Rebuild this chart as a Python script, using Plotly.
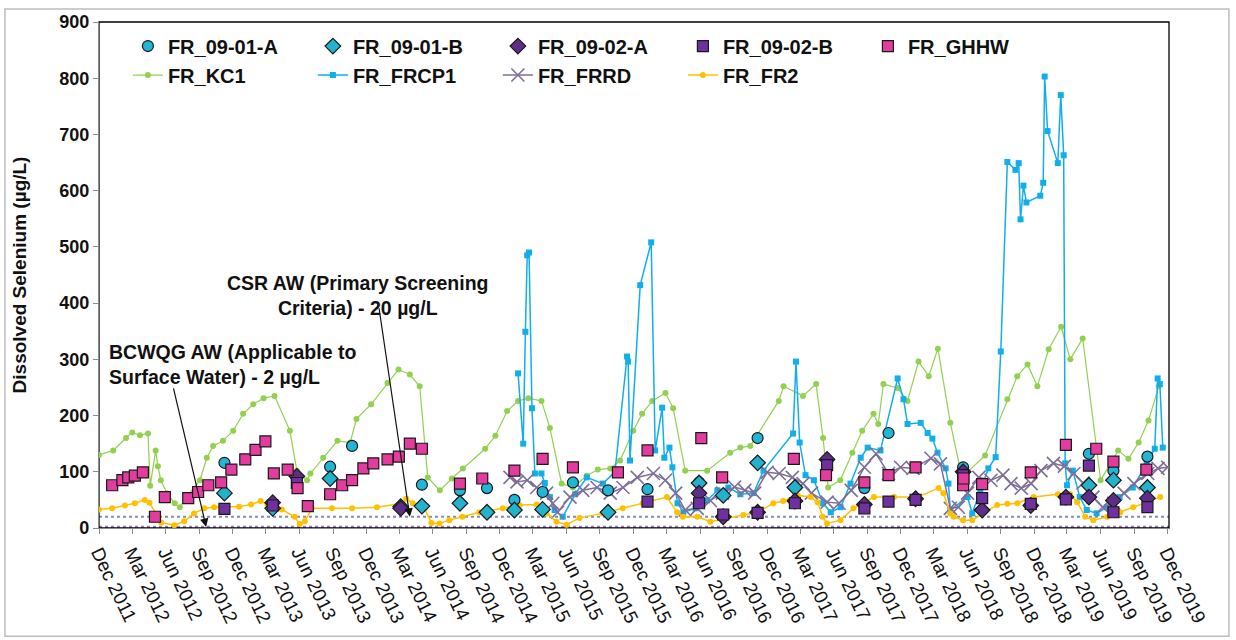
import plotly.graph_objects as go

FONT = "Arial, 'Liberation Sans', sans-serif"

# ---------------- data ----------------
a0901_dates = ["2012-11-08", "2013-05-25", "2013-08-24", "2013-10-23", "2014-03-05", "2014-05-02",
               "2014-08-14", "2014-10-27", "2015-01-10", "2015-03-28", "2015-06-19", "2015-09-23",
               "2016-01-09", "2016-05-29", "2016-11-05", "2017-05-14", "2017-08-24", "2017-10-29",
               "2018-05-21", "2018-11-22", "2019-04-30", "2019-07-06", "2019-10-07"]
a0901_vals = [116, 88, 109, 146, 37, 77, 67, 71, 50, 64, 81, 67, 69, 81, 160, 120, 71, 169,
              108, 41, 132, 102, 127]

b0901_dates = ["2012-11-08", "2013-03-20", "2013-08-24", "2014-03-05", "2014-05-02", "2014-08-14",
               "2014-10-27", "2015-01-10", "2015-03-28", "2015-09-23", "2016-05-29", "2016-08-03",
               "2016-11-05", "2017-02-15", "2019-04-30", "2019-07-06", "2019-10-07"]
b0901_vals = [62, 35, 88, 38, 39, 44, 28, 32, 33, 28, 80, 58, 116, 72, 76, 85, 72]

a0902_dates = ["2013-03-20", "2013-05-25", "2014-03-05", "2016-05-29", "2016-08-03", "2016-11-05",
               "2017-02-15", "2017-05-14", "2017-08-24", "2018-01-11", "2018-05-21", "2018-07-12",
               "2018-11-22", "2019-02-26", "2019-04-30", "2019-07-06", "2019-10-07"]
a0902_vals = [45, 92, 35, 62, 20, 28, 48, 122, 42, 52, 100, 32, 40, 55, 55, 49, 53]

b0902_dates = ["2012-11-08", "2013-03-20", "2013-05-25", "2016-01-09", "2016-05-29", "2016-08-03",
               "2016-11-05", "2017-02-15", "2017-05-14", "2017-08-24", "2017-10-29", "2018-01-11",
               "2018-05-21", "2018-07-12", "2018-11-22", "2019-02-26", "2019-04-30", "2019-07-06",
               "2019-10-07"]
b0902_vals = [34, 40, 80, 47, 44, 24, 27, 44, 112, 35, 47, 50, 94, 53, 43, 51, 111, 28, 37]

ghhw_dates = ["2012-01-06", "2012-02-03", "2012-02-19", "2012-03-08", "2012-03-30", "2012-05-02",
              "2012-05-29", "2012-08-01", "2012-08-28", "2012-09-25", "2012-10-30", "2012-11-27",
              "2013-01-04", "2013-02-01", "2013-02-28", "2013-03-23", "2013-04-30", "2013-05-27",
              "2013-06-24", "2013-08-24", "2013-09-26", "2013-10-23", "2013-11-23", "2013-12-20",
              "2014-01-28", "2014-02-28", "2014-03-30", "2014-05-02", "2014-08-14", "2014-10-14",
              "2015-01-10", "2015-03-28", "2015-06-19", "2015-10-20", "2016-01-09", "2016-06-04",
              "2016-07-31", "2017-02-12", "2017-05-11", "2017-08-24", "2017-10-29", "2018-01-11",
              "2018-05-21", "2018-05-22", "2018-07-12", "2018-11-22", "2019-02-26", "2019-05-20",
              "2019-07-06", "2019-10-04"]
ghhw_vals = [76, 85, 90, 93, 99, 20, 55, 53, 64, 76, 81, 104, 122, 139, 154, 97, 104, 71, 39,
             60, 76, 85, 106, 115, 122, 127, 150, 141, 79, 88, 102, 123, 108, 99, 138, 160, 90,
             123, 94, 81, 94, 108, 76, 88, 78, 99, 148, 141, 118, 104]

kc1_dates = ["2011-12-01", "2012-01-09", "2012-02-13", "2012-03-01", "2012-03-22", "2012-04-13",
             "2012-04-19", "2012-05-04", "2012-05-10", "2012-05-18", "2012-06-04", "2012-06-25",
             "2012-07-09", "2012-07-31", "2012-09-02", "2012-09-21", "2012-10-08", "2012-11-04",
             "2012-12-02", "2012-12-29", "2013-01-26", "2013-02-23", "2013-03-25", "2013-05-06",
             "2013-05-25", "2013-06-22", "2013-07-01", "2013-08-05", "2013-09-13", "2013-10-18",
             "2013-11-04", "2013-12-14", "2014-01-28", "2014-02-27", "2014-03-30", "2014-04-26",
             "2014-05-18", "2014-06-20", "2014-07-23", "2014-08-22", "2014-10-22", "2014-11-19",
             "2014-12-21", "2015-01-20", "2015-02-17", "2015-03-25", "2015-04-17", "2015-05-19",
             "2015-06-19", "2015-07-27", "2015-08-26", "2015-09-29", "2015-10-26", "2015-12-01",
             "2015-12-25", "2016-01-22", "2016-02-27", "2016-03-19", "2016-04-21", "2016-06-20",
             "2016-08-22", "2016-09-19", "2016-10-16", "2017-01-02", "2017-01-15", "2017-03-09",
             "2017-04-14", "2017-05-03", "2017-05-17", "2017-06-19", "2017-07-22", "2017-08-18",
             "2017-09-18", "2017-10-01", "2017-10-15", "2017-11-23", "2017-12-20", "2018-01-19",
             "2018-02-16", "2018-03-13", "2018-04-16", "2018-05-18", "2018-07-20", "2018-09-19",
             "2018-10-16", "2018-11-13", "2018-12-10", "2019-01-10", "2019-02-13", "2019-03-10",
             "2019-04-13", "2019-06-01", "2019-07-19", "2019-08-16", "2019-09-13", "2019-10-10",
             "2019-11-07"]
kc1_vals = [130, 138, 160, 170, 165, 168, 75, 138, 110, 85, 62, 44, 37, 58, 85, 125, 146, 155,
            173, 203, 220, 231, 235, 173, 102, 85, 97, 125, 155, 152, 194, 220, 258, 282, 273,
            252, 90, 67, 88, 106, 141, 164, 208, 226, 231, 226, 178, 79, 72, 93, 104, 106, 120,
            173, 203, 226, 240, 213, 102, 102, 134, 143, 146, 226, 252, 235, 256, 160, 72, 85,
            134, 173, 203, 185, 256, 249, 226, 296, 270, 319, 187, 90, 129, 229, 270, 291, 252,
            318, 358, 300, 337, 85, 138, 123, 152, 191, 252]

frcp1_dates = ["2015-01-20", "2015-02-03", "2015-02-09", "2015-02-14", "2015-02-19", "2015-02-27",
               "2015-03-07", "2015-03-25", "2015-04-03", "2015-04-17", "2015-04-30", "2015-05-22",
               "2015-06-25", "2015-07-27", "2015-09-09", "2015-10-12", "2015-11-14", "2015-11-17",
               "2015-11-22", "2015-12-20", "2016-01-19", "2016-01-30", "2016-02-18", "2016-02-24",
               "2016-03-09", "2016-03-17", "2016-03-31", "2016-04-16", "2016-05-19", "2016-06-20",
               "2016-07-18", "2016-08-17", "2016-09-19", "2016-10-25", "2016-11-21", "2017-02-10",
               "2017-02-18", "2017-02-28", "2017-03-16", "2017-04-08", "2017-05-03", "2017-05-24",
               "2017-06-20", "2017-07-17", "2017-08-14", "2017-09-02", "2017-10-07", "2017-11-23",
               "2017-12-09", "2017-12-20", "2018-01-25", "2018-02-13", "2018-02-26", "2018-03-12",
               "2018-04-03", "2018-04-11", "2018-04-16", "2018-06-02", "2018-06-15", "2018-07-07",
               "2018-07-29", "2018-08-18", "2018-09-01", "2018-09-19", "2018-10-11", "2018-10-20",
               "2018-10-25", "2018-11-02", "2018-11-10", "2018-12-18", "2018-12-26", "2018-12-30",
               "2019-01-07", "2019-02-04", "2019-02-12", "2019-02-20", "2019-02-24", "2019-03-01",
               "2019-03-17", "2019-04-05", "2019-04-24", "2019-05-21", "2019-06-18", "2019-07-23",
               "2019-08-28", "2019-10-05", "2019-10-27", "2019-11-04", "2019-11-10", "2019-11-18"]
frcp1_vals = [275, 150, 349, 485, 490, 213, 97, 97, 80, 55, 32, 20, 60, 90, 79, 100, 305, 296,
              120, 432, 508, 138, 214, 125, 143, 108, 44, 28, 35, 49, 67, 72, 60, 62, 102, 168,
              296, 152, 94, 85, 44, 28, 37, 79, 125, 143, 138, 266, 229, 185, 187, 169, 159, 134,
              106, 79, 32, 55, 26, 67, 106, 126, 314, 651, 637, 649, 549, 609, 579, 591, 614, 803,
              706, 649, 770, 663, 115, 76, 102, 55, 32, 26, 37, 55, 72, 115, 141, 266, 256, 143]

frrd_dates = ["2014-12-29", "2015-01-17", "2015-02-14", "2015-03-12", "2015-04-08", "2015-04-25",
              "2015-05-08", "2015-06-11", "2015-07-16", "2015-08-24", "2015-09-29", "2015-11-03",
              "2015-12-12", "2016-01-25", "2016-02-27", "2016-03-26", "2016-04-21", "2016-05-24",
              "2016-06-29", "2016-08-01", "2016-09-03", "2016-10-01", "2016-10-28", "2016-12-01",
              "2017-01-03", "2017-02-08", "2017-03-09", "2017-04-01", "2017-05-14", "2017-06-16",
              "2017-07-19", "2017-08-24", "2017-09-25", "2017-10-29", "2017-12-01", "2018-01-04",
              "2018-02-22", "2018-03-20", "2018-04-16", "2018-05-08", "2018-06-02", "2018-07-03",
              "2018-08-05", "2018-09-07", "2018-09-29", "2018-10-27", "2018-11-23", "2018-12-20",
              "2019-01-23", "2019-02-22", "2019-03-20", "2019-04-14", "2019-05-11", "2019-06-07",
              "2019-07-07", "2019-08-04", "2019-08-31", "2019-10-08", "2019-11-05", "2019-12-01"]
frrd_vals = [90, 82, 85, 72, 62, 44, 28, 55, 67, 72, 62, 72, 90, 97, 85, 62, 32, 35, 49, 62, 73,
             67, 62, 99, 97, 90, 79, 62, 46, 44, 67, 108, 132, 97, 108, 106, 124, 114, 35, 37, 62,
             90, 85, 94, 79, 71, 79, 102, 115, 110, 97, 80, 55, 37, 44, 62, 79, 97, 106, 108]

fr2_dates = ["2011-12-01", "2012-01-06", "2012-02-10", "2012-03-08", "2012-04-04", "2012-04-17",
             "2012-05-19", "2012-06-24", "2012-07-21", "2012-08-17", "2012-09-14", "2012-10-11",
             "2012-11-15", "2012-12-18", "2013-01-20", "2013-02-15", "2013-03-06", "2013-04-14",
             "2013-05-19", "2013-06-02", "2013-06-16", "2013-07-05", "2013-08-29", "2013-10-23",
             "2013-12-30", "2014-03-10", "2014-03-20", "2014-04-07", "2014-05-09", "2014-05-28",
             "2014-06-19", "2014-07-16", "2014-08-21", "2014-10-06", "2014-12-09", "2015-01-24",
             "2015-03-12", "2015-04-08", "2015-05-05", "2015-06-02", "2015-07-07", "2015-09-08",
             "2015-11-02", "2015-12-27", "2016-03-02", "2016-03-30", "2016-04-15", "2016-05-24",
             "2016-06-29", "2016-09-27", "2016-11-05", "2016-12-18", "2017-01-14", "2017-02-23",
             "2017-03-30", "2017-04-18", "2017-05-02", "2017-05-14", "2017-06-20", "2017-07-25",
             "2017-09-19", "2017-11-13", "2018-01-16", "2018-03-15", "2018-03-28", "2018-04-16",
             "2018-04-25", "2018-05-21", "2018-06-15", "2018-08-22", "2018-09-19", "2018-10-16",
             "2018-11-30", "2019-02-04", "2019-03-10", "2019-03-29", "2019-04-20", "2019-05-12",
             "2019-06-19", "2019-07-25", "2019-08-29", "2019-10-07", "2019-11-11"]
fr2_vals = [33, 35, 40, 44, 50, 45, 10, 5, 12, 26, 35, 37, 38, 38, 42, 48, 42, 33, 20, 7, 12, 35,
            35, 35, 37, 44, 52, 44, 35, 9, 8, 14, 20, 28, 35, 41, 42, 26, 11, 6, 18, 26, 35, 44,
            55, 28, 20, 20, 11, 23, 28, 44, 48, 58, 55, 46, 20, 8, 14, 35, 55, 55, 55, 71, 62, 26,
            20, 14, 14, 41, 43, 44, 55, 60, 60, 46, 20, 14, 20, 28, 37, 46, 55]

csr_aw = 20       # CSR AW primary screening criterion, ug/L
bcwqg_aw = 2      # BCWQG AW guideline, ug/L
csr_arrow_date = "2014-03-30"
bcwqg_arrow_date = "2012-09-19"

x_start, x_end = "2011-12-01", "2019-12-05"

# ---------------- figure ----------------
fig = go.Figure()

line_series = [
    ("FR_KC1", kc1_dates, kc1_vals, "#92D050", dict(symbol="circle", size=6), 1.2, 6),
    ("FR_FRCP1", frcp1_dates, frcp1_vals, "#11AEEA", dict(symbol="square", size=6), 1.5, 7),
    ("FR_FRRD", frrd_dates, frrd_vals, "#7E6E98",
     dict(symbol="x-thin", size=13, line=dict(width=1.6, color="#7E6E98")), 1.5, 8),
    ("FR_FR2", fr2_dates, fr2_vals, "#FFC000", dict(symbol="circle", size=6), 1.5, 9),
]
for name, xs, ys, col, mk, lw, rank in line_series:
    m = dict(color=col)
    m.update(mk)
    fig.add_trace(go.Scatter(x=xs, y=ys, name=name, mode="lines+markers",
                             line=dict(color=col, width=lw), marker=m, legendrank=rank))

point_series = [
    ("FR_09-01-A", a0901_dates, a0901_vals, "#22B5D6", "circle", 11, 1),
    ("FR_09-01-B", b0901_dates, b0901_vals, "#22B2CC", "diamond", 12, 2),
    ("FR_09-02-A", a0902_dates, a0902_vals, "#5E2D86", "diamond", 12, 3),
    ("FR_09-02-B", b0902_dates, b0902_vals, "#7030A0", "square", 11, 4),
    ("FR_GHHW", ghhw_dates, ghhw_vals, "#E23C9F", "square", 11, 5),
]
for name, xs, ys, col, sym, sz, rank in point_series:
    fig.add_trace(go.Scatter(x=xs, y=ys, name=name, mode="markers",
                             marker=dict(symbol=sym, size=sz, color=col,
                                         line=dict(color="#1a1a1a", width=1.2)),
                             legendrank=rank))

# guideline lines
fig.add_shape(type="line", xref="x domain", yref="y", x0=0, x1=1, y0=csr_aw, y1=csr_aw,
              line=dict(color="#8A8AAE", width=2.2, dash="dot"), layer="below")
fig.add_shape(type="line", xref="x domain", yref="y", x0=0, x1=1, y0=bcwqg_aw, y1=bcwqg_aw,
              line=dict(color="#A07CC0", width=2.2, dash="dot"), layer="below")

# plot frame (top/right black)
fig.add_shape(type="rect", xref="x domain", yref="y domain", x0=0, x1=1, y0=0, y1=1,
              line=dict(color="#000000", width=1.3), layer="below")
# outer chart border
fig.add_shape(type="rect", xref="paper", yref="paper", x0=-0.0879, x1=1.056, y0=-0.2137,
              y1=1.0255, line=dict(color="#BDBDBD", width=1.5), layer="below")

ann_font = dict(family=FONT, size=19.5, color="#111111", weight="bold")
fig.add_annotation(text="CSR AW (Primary Screening<br>Criteria) - 20 µg/L", xref="paper",
                   yref="paper", x=0.242, y=0.459, showarrow=False, font=ann_font,
                   align="center", xanchor="center", yanchor="middle")
fig.add_annotation(text="", x=csr_arrow_date, y=csr_aw, xref="x", yref="y", showarrow=True,
                   ax=-31, ay=-210, arrowhead=2, arrowsize=1.4, arrowwidth=1.2,
                   arrowcolor="#111111")
fig.add_annotation(text="BCWQG AW (Applicable to<br>Surface Water) - 2 µg/L", xref="paper",
                   yref="paper", x=0.0075, y=0.3235, showarrow=False, font=ann_font,
                   align="left", xanchor="left", yanchor="middle")
fig.add_annotation(text="", x=bcwqg_arrow_date, y=bcwqg_aw, xref="x", yref="y",
                   showarrow=True, ax=-33, ay=-140, arrowhead=2, arrowsize=1.4,
                   arrowwidth=1.2, arrowcolor="#111111")

fig.update_layout(
    width=1236, height=640,
    margin=dict(l=99, r=67, t=18, b=112),
    paper_bgcolor="white", plot_bgcolor="white",
    font=dict(family=FONT, color="#111111"),
    showlegend=True,
    legend=dict(orientation="h", x=0.027, y=0.991, xanchor="left", yanchor="top",
                bgcolor="rgba(0,0,0,0)", entrywidth=140, entrywidthmode="pixels",
                font=dict(family=FONT, size=20, color="#111111", weight="bold"),
                tracegroupgap=0, traceorder="normal"),
    xaxis=dict(type="date", range=[x_start, x_end], tick0="2011-12-01", dtick="M3",
               tickformat="%b %Y", tickangle=64, showgrid=False, zeroline=False,
               showline=True, linecolor="#8C8C8C", linewidth=1.2, ticks="outside",
               ticklen=5, tickcolor="#8C8C8C",
               tickfont=dict(family=FONT, size=19, color="#111111")),
    yaxis=dict(range=[0, 900], dtick=100, showgrid=False, zeroline=False, showline=True,
               linecolor="#8C8C8C", linewidth=1.2, ticks="outside", ticklen=5,
               tickcolor="#8C8C8C",
               tickfont=dict(family=FONT, size=18, color="#111111", weight="bold"),
               title=dict(text="Dissolved Selenium (µg/L)", standoff=27,
                          font=dict(family=FONT, size=19, color="#111111", weight="bold"))),
)

fig.write_html("out.html")
